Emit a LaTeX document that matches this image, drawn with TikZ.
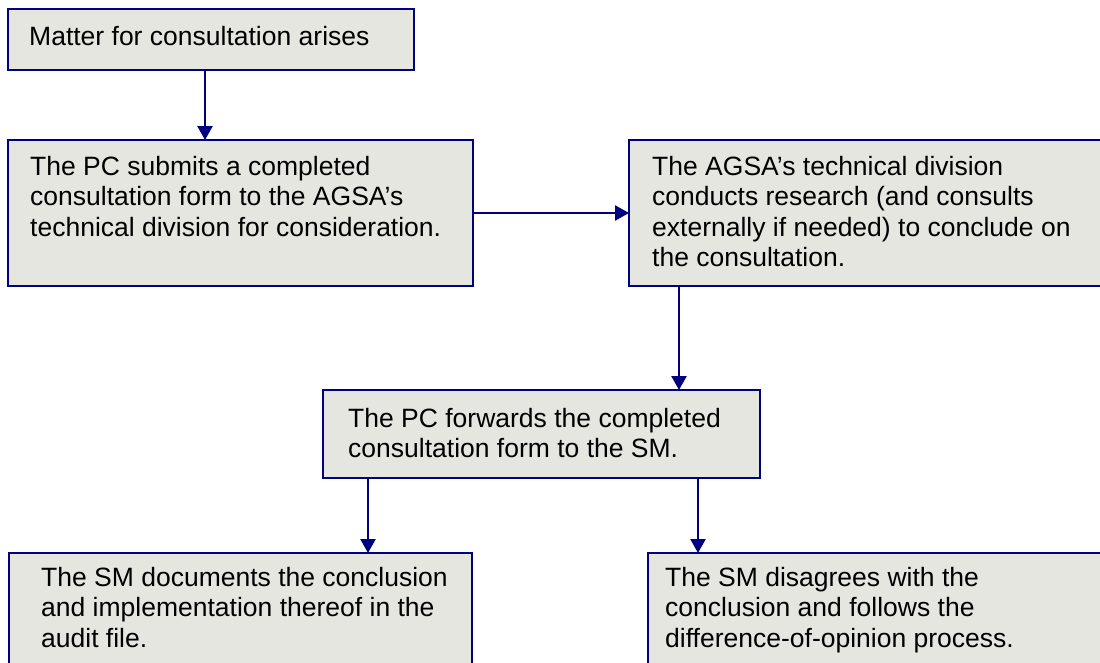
\documentclass[tikz,border=0pt]{standalone}
\usepackage{fontspec}
\setmainfont{Liberation Sans}
\usetikzlibrary{arrows.meta,calc}
\definecolor{navy}{RGB}{0,0,128}
\definecolor{boxfill}{RGB}{230,230,225}
\begin{document}
\begin{tikzpicture}[x=1pt,y=-1pt,
  box/.style={draw=navy,fill=boxfill,line width=2.8pt,inner sep=0pt,outer sep=0pt,anchor=north west},
  txt/.style={anchor=north west,inner sep=0pt,align=left,text=black,
    font=\fontsize{26.5pt}{30.5pt}\selectfont},
  arr/.style={draw=navy,line width=2.6pt,-{Triangle[length=14pt,width=15pt]}}]
\useasboundingbox (0,0) rectangle (1100,662);
\clip (0,0) rectangle (1100,662);
\fill[white] (0,0) rectangle (1100,662);
% boxes
\node[box,minimum width=406pt,minimum height=61pt] (b1) at (8,9) {};
\node[box,minimum width=465pt,minimum height=146pt] (b2) at (8,140) {};
\node[box,minimum width=500pt,minimum height=146pt] (b3) at (629,140) {};
\node[box,minimum width=437pt,minimum height=88pt] (b4) at (323,390) {};
\node[box,minimum width=463pt,minimum height=130pt] (b5) at (9,553) {};
\node[box,minimum width=480pt,minimum height=130pt] (b6) at (648,553) {};
% texts
\node[txt] (t1) at ($(b1.north west)+(21,17)$) {Matter for consultation arises};
\node[txt] (t2) at ($(b2.north west)+(22,16)$) {The PC submits a completed\\consultation form to the AGSA’s\\technical division for consideration.};
\node[txt] (t3) at ($(b3.north west)+(23,16)$) {The AGSA’s technical division\\conducts research (and consults\\externally if needed) to conclude on\\the consultation.};
\node[txt] (t4) at ($(b4.north west)+(25,18)$) {The PC forwards the completed\\consultation form to the SM.};
\node[txt] (t5) at ($(b5.north west)+(32,14)$) {The SM documents the conclusion\\and implementation thereof in the\\audit file.};
\node[txt] (t6) at ($(b6.north west)+(17,14)$) {The SM disagrees with the\\conclusion and follows the\\difference-of-opinion process.};
% connectors
\coordinate (xa) at (205,0);
\coordinate (xb) at (679,0);
\coordinate (xc) at (368,0);
\coordinate (xd) at (698,0);
\draw[arr] (b1.south -| xa) -- (b2.north -| xa);
\draw[arr] (b2.east) -- (b2.east -| b3.west);
\draw[arr] (b3.south -| xb) -- (b4.north -| xb);
\draw[arr] (b4.south -| xc) -- (b5.north -| xc);
\draw[arr] (b4.south -| xd) -- (b6.north -| xd);
\end{tikzpicture}
\end{document}
